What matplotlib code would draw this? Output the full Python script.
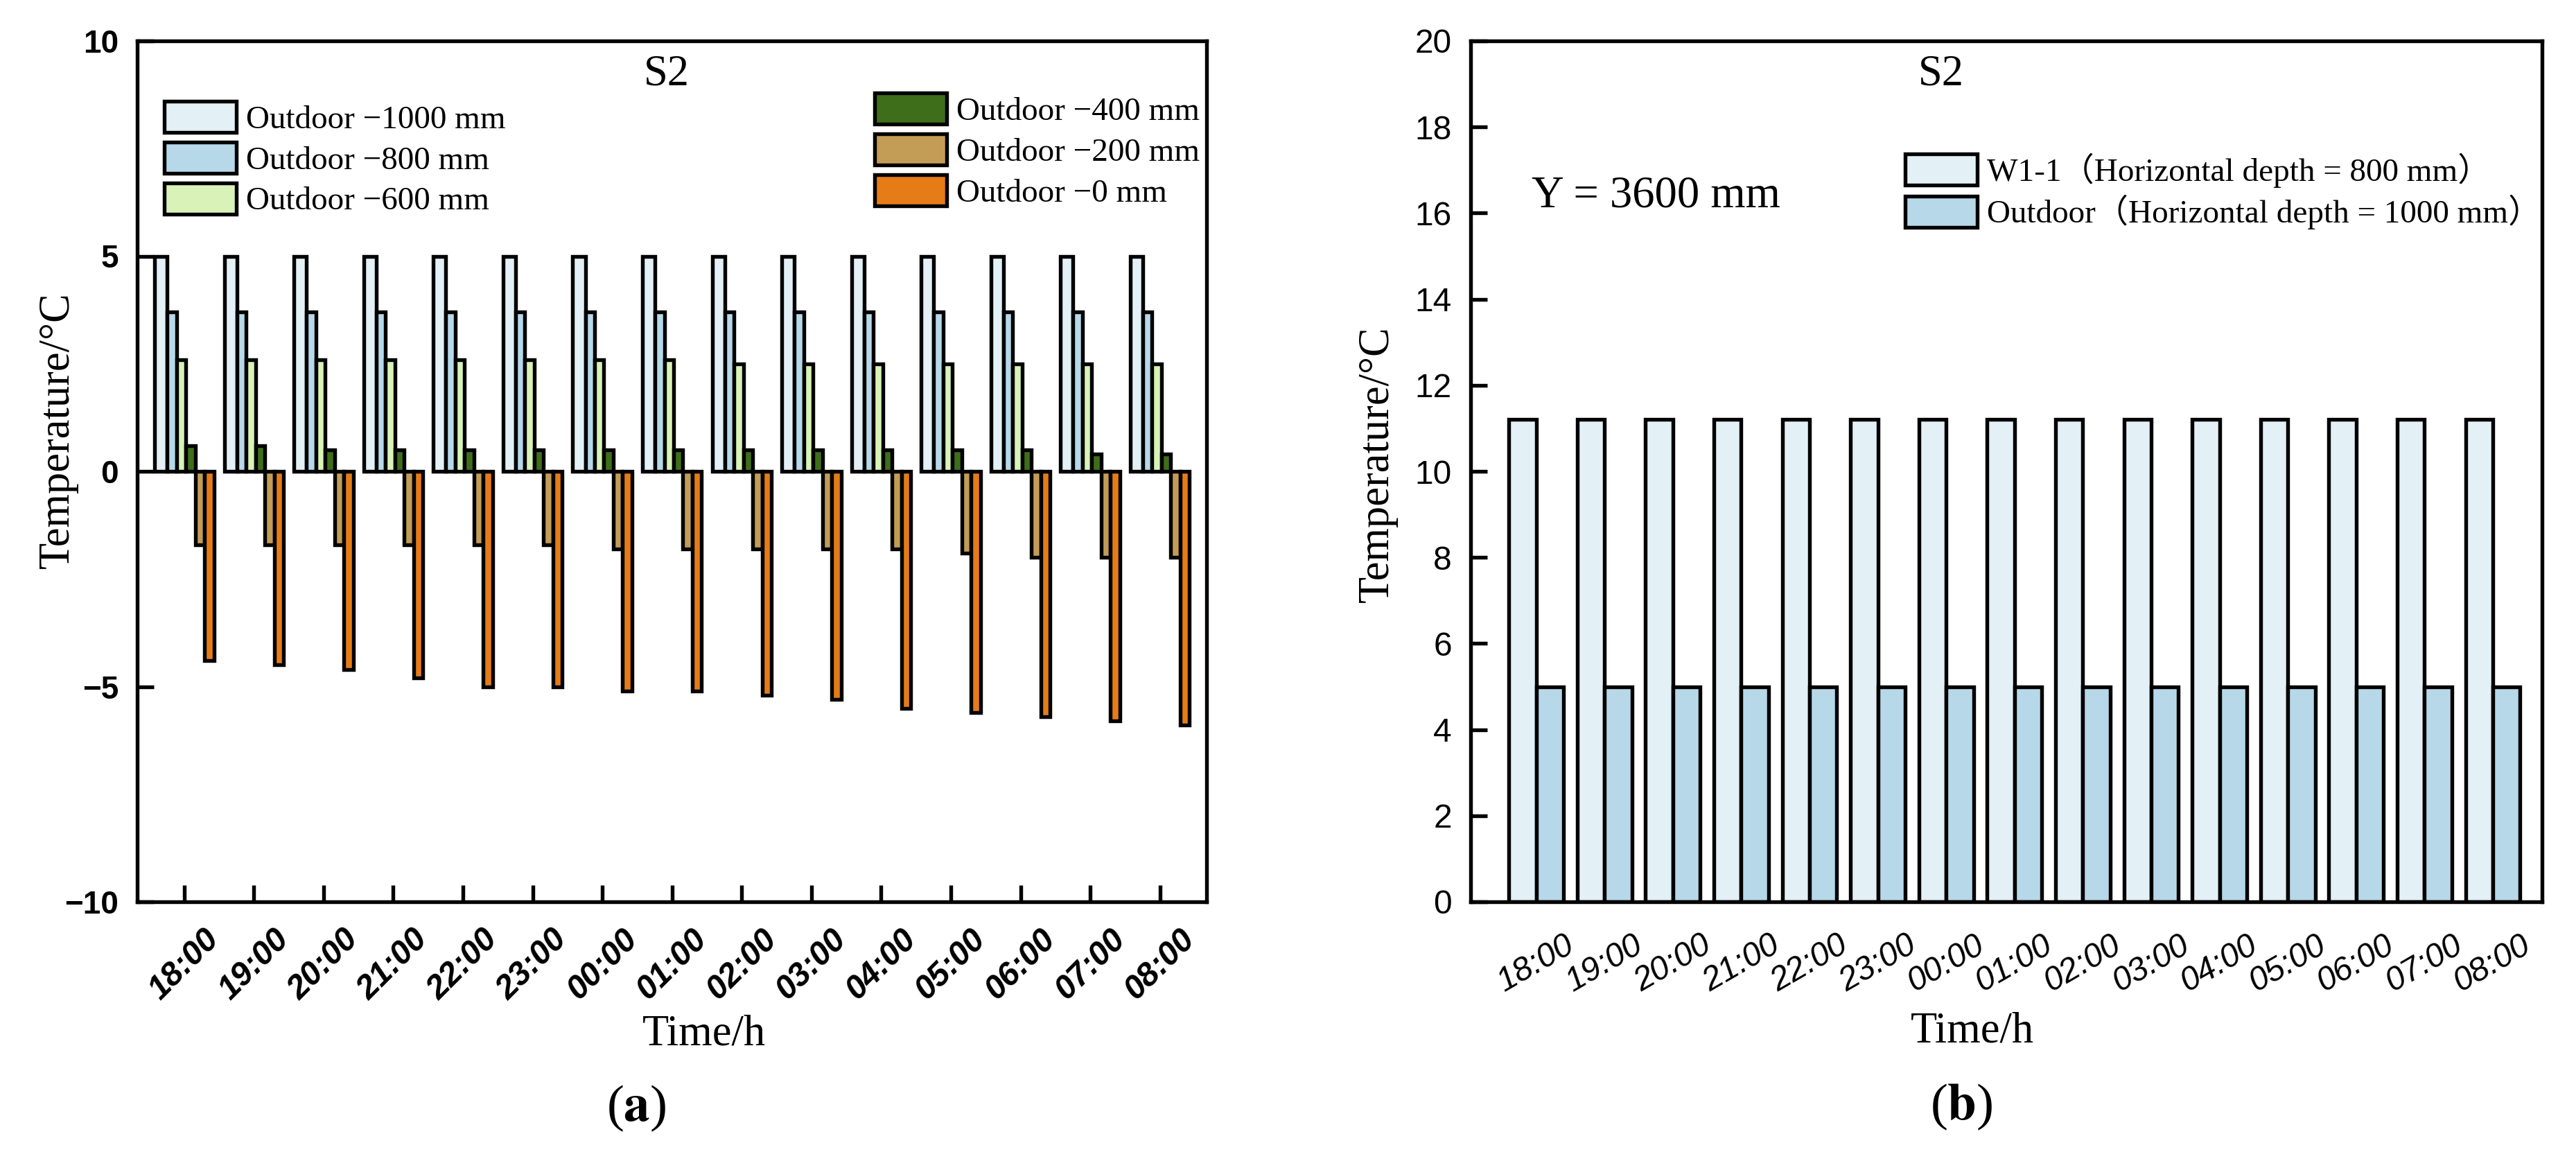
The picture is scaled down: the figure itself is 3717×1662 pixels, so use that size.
import numpy as np
import matplotlib
matplotlib.use("Agg")
import matplotlib.pyplot as plt
from matplotlib.transforms import ScaledTranslation

plt.rcParams["font.family"] = ["Liberation Serif", "Noto Sans CJK SC"]
plt.rcParams["mathtext.fontset"] = "stix"

# ---- data -------------------------------------------------------------
ore = ["18:00", "19:00", "20:00", "21:00", "22:00", "23:00", "00:00", "01:00",
       "02:00", "03:00", "04:00", "05:00", "06:00", "07:00", "08:00"]

# (a) temperatura la diferite adâncimi (outdoor)
t_1000 = [5.0, 5.0, 5.0, 5.0, 5.0, 5.0, 5.0, 5.0, 5.0, 5.0, 5.0, 5.0, 5.0, 5.0, 5.0]
t_800 = [3.7, 3.7, 3.7, 3.7, 3.7, 3.7, 3.7, 3.7, 3.7, 3.7, 3.7, 3.7, 3.7, 3.7, 3.7]
t_600 = [2.6, 2.6, 2.6, 2.6, 2.6, 2.6, 2.6, 2.6, 2.5, 2.5, 2.5, 2.5, 2.5, 2.5, 2.5]
t_400 = [0.6, 0.6, 0.5, 0.5, 0.5, 0.5, 0.5, 0.5, 0.5, 0.5, 0.5, 0.5, 0.5, 0.4, 0.4]
t_200 = [-1.7, -1.7, -1.7, -1.7, -1.7, -1.7, -1.8, -1.8, -1.8, -1.8, -1.8, -1.9, -2.0, -2.0, -2.0]
t_0 = [-4.4, -4.5, -4.6, -4.8, -5.0, -5.0, -5.1, -5.1, -5.2, -5.3, -5.5, -5.6, -5.7, -5.8, -5.9]
etichete_a = ["Outdoor \u22121000 mm", "Outdoor \u2212800 mm", "Outdoor \u2212600 mm",
              "Outdoor \u2212400 mm", "Outdoor \u2212200 mm", "Outdoor \u22120 mm"]

# (b) W1-1 vs outdoor
t_w11 = [11.2, 11.2, 11.2, 11.2, 11.2, 11.2, 11.2, 11.2, 11.2, 11.2, 11.2, 11.2, 11.2, 11.2, 11.2]
t_out = [5.0, 5.0, 5.0, 5.0, 5.0, 5.0, 5.0, 5.0, 5.0, 5.0, 5.0, 5.0, 5.0, 5.0, 5.0]
etichete_b = ["W1-1\uff08Horizontal depth = 800 mm\uff09",
              "Outdoor\uff08Horizontal depth = 1000 mm\uff09"]

culori_a = ["#E3F0F6", "#B7D8E8", "#D8F2B8", "#3F6E1A", "#C39C56", "#E57C18"]
culori_b = ["#E3F0F6", "#B7D8E8"]

W, H, DPI = 3717, 1662, 300
fig = plt.figure(figsize=(W / DPI, H / DPI), dpi=DPI)
ax_a = fig.add_axes([198 / W, 361 / H, 1543 / W, 1242 / H])
ax_b = fig.add_axes([2122 / W, 361 / H, 1546 / W, 1242 / H])

SANS = "Liberation Sans"
LW = 1.3
LEG = dict(loc="upper left", fontsize=11.3, frameon=False, handlelength=2.2,
           handleheight=1.1, labelspacing=0.22, handletextpad=0.3,
           borderpad=0, borderaxespad=0)

# ---- (a) --------------------------------------------------------------
x = np.arange(len(ore))
serii_a = [t_1000, t_800, t_600, t_400, t_200, t_0]
latimi = [0.18, 0.134, 0.134, 0.134, 0.134, 0.134]
start = x - sum(latimi) / 2
off = 0.0
bare_a = []
for vals, w, c, lbl in zip(serii_a, latimi, culori_a, etichete_a):
    b = ax_a.bar(start + off, vals, width=w, align="edge", color=c,
                 edgecolor="black", linewidth=LW, label=lbl)
    bare_a.append(b)
    off += w

ax_a.set_xlim(-0.674, 14.67)
ax_a.set_ylim(-10, 10)
ax_a.set_yticks([-10, -5, 0, 5, 10])
ax_a.set_yticklabels(["\u221210", "\u22125", "0", "5", "10"],
                     fontfamily=SANS, fontweight="bold", fontsize=11)
ax_a.set_xticks(x)
ax_a.set_xticklabels(ore, fontfamily=SANS, fontweight="bold", fontstyle="italic",
                     fontsize=11.5, rotation=45, ha="center")
for t in ax_a.get_xticklabels():
    t.set_transform(t.get_transform() + ScaledTranslation(-19 / DPI, 0, fig.dpi_scale_trans))
ax_a.tick_params(direction="in", length=5.8, width=LW, pad=6.5, top=False, right=False)
ax_a.tick_params(axis="x", pad=7.5)

leg1 = ax_a.legend(bare_a[:3], etichete_a[:3], bbox_to_anchor=(0.0253, 0.930), **LEG)
ax_a.add_artist(leg1)
ax_a.legend(bare_a[3:], etichete_a[3:], bbox_to_anchor=(0.6896, 0.9396), **LEG)
ax_a.text(0.495, 0.961, "S2", transform=ax_a.transAxes, ha="center", va="center", fontsize=15)
ax_a.set_ylabel("Temperature/\u00b0C", fontsize=15, va="center")
ax_a.yaxis.set_label_coords(-0.074, 0.548)
ax_a.set_xlabel("Time/h", fontsize=15, va="top")
ax_a.xaxis.set_label_coords(0.530, -0.131)

# ---- (b) --------------------------------------------------------------
b1 = ax_b.bar(x - 0.4, t_w11, width=0.4, align="edge", color=culori_b[0],
              edgecolor="black", linewidth=LW, label=etichete_b[0])
b2 = ax_b.bar(x, t_out, width=0.4, align="edge", color=culori_b[1],
              edgecolor="black", linewidth=LW, label=etichete_b[1])
ax_b.set_xlim(-0.96, 14.72)
ax_b.set_ylim(0, 20)
ax_b.set_yticks(np.arange(0, 21, 2))
ax_b.set_yticklabels([str(v) for v in range(0, 21, 2)], fontfamily=SANS, fontsize=11.5)
ax_b.set_xticks(x)
ax_b.set_xticklabels(ore, fontfamily=SANS, fontstyle="italic", fontsize=11.5,
                     rotation=30, ha="center")
for t in ax_b.get_xticklabels():
    t.set_transform(t.get_transform() + ScaledTranslation(-37 / DPI, 0, fig.dpi_scale_trans))
ax_b.tick_params(direction="in", length=5.8, width=LW, pad=6.5, top=False, right=False)
ax_b.tick_params(axis="x", length=0, pad=9.5)
ax_b.legend([b1, b2], etichete_b, bbox_to_anchor=(0.4056, 0.870), **LEG)
ax_b.text(0.439, 0.961, "S2", transform=ax_b.transAxes, ha="center", va="center", fontsize=15)
ax_b.text(0.057, 0.82, "Y = 3600 mm", transform=ax_b.transAxes, ha="left", va="center",
          fontsize=15.5)
ax_b.set_ylabel("Temperature/\u00b0C", fontsize=15, va="center")
ax_b.yaxis.set_label_coords(-0.0867, 0.508)
ax_b.set_xlabel("Time/h", fontsize=15, va="top")
ax_b.xaxis.set_label_coords(0.468, -0.128)

for ax in (ax_a, ax_b):
    for s in ax.spines.values():
        s.set_linewidth(LW)

fig.text(918 / W, 1 - 1599 / H, r"($\mathbf{a}$)", ha="center", va="center", fontsize=18)
fig.text(2830 / W, 1 - 1597 / H, r"($\mathbf{b}$)", ha="center", va="center", fontsize=18)

fig.savefig("out.png", dpi=DPI)
